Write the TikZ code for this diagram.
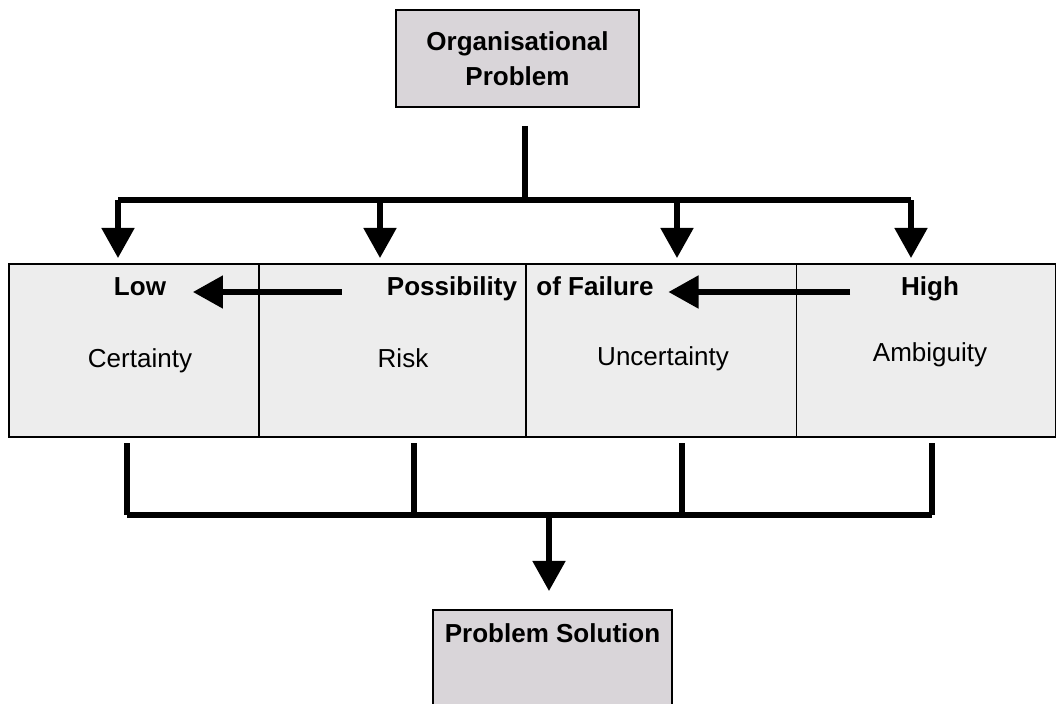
\documentclass[tikz,border=0pt]{standalone}
\usepackage{fontspec}
\setmainfont{Liberation Sans}
\usetikzlibrary{arrows.meta,positioning}

\definecolor{boxgray}{RGB}{217,213,217}
\definecolor{cellgray}{RGB}{237,237,237}

\begin{document}
\begin{tikzpicture}[
                x = 0.025cm, y = -0.025cm,
every node/.style = {font=\fontsize{18.5}{24.5}\selectfont,
                     text height=0.75em, text depth=0.25em},
      frame/.style = {draw, line width=1.3pt, fill=boxgray,
                     font=\fontsize{18.5}{24.5}\selectfont\bfseries},
       cell/.style = {draw, line width=1pt, fill=cellgray, outer sep=0pt,
                     minimum height=4.325cm, inner sep=0pt},
        lbl/.style = {font=\fontsize{18.5}{24.5}\selectfont\bfseries},
       link/.style = {line width=3.6pt},
        arr/.style = {link, -{Triangle[width=0.8cm,length=0.75cm]}}
                        ]
\useasboundingbox (0,0) rectangle (1057,703);
\clip (0,0) rectangle (1057,703);
%
\node (Problem) [frame, minimum width=6.075cm, minimum height=2.425cm,
                 align=center, text height=, text depth=]
      at (517.5,58.5) {Organisational\\Problem};
%
% the four cells of the strip
\node (Cert) [cell, minimum width=6.25cm, anchor=north west] at (9,264) {};
\node (Risk) [cell, minimum width=6.675cm, right=0pt of Cert] {};
\node (Unc)  [cell, minimum width=6.75cm,  right=0pt of Risk] {};
\node (Amb)  [cell, minimum width=6.475cm, right=0pt of Unc] {};
%
\node (Low)  [lbl] at (140,292) {Low};
\node (Poss) [lbl] at (452,292) {Possibility};
\node (Fail) [lbl] at (595,292) {of Failure};
\node (High) [lbl] at (930,292) {High};
\node (Certainty)   at (140,364) {Certainty};
\node (Risky)       at (403,364) {Risk};
\node (Uncertainty) at (663,362) {Uncertainty};
\node (Ambiguity)   at (930,358) {Ambiguity};
%
\draw[arr, shorten <=1cm, shorten >=0.55cm] (Poss.west) -- (Low.east);
\draw[arr, shorten <=1.15cm, shorten >=0.25cm] (High.west) -- (Fail.east);
%
\node (Solution) [frame, minimum width=5.975cm, anchor=north,
                  inner ysep=0.56cm, text depth=1.3cm]
      at (552.5,609) {Problem Solution};
%
% fork from the problem down to the strip
\coordinate (Fork) at (525,200);
\draw[link, shorten <=0.45cm] (Fork |- Problem.south) -- (Fork);
\draw[link] (118,200) -- (911,200);
\foreach \x/\c in {118/Cert, 380/Risk, 677/Unc, 911/Amb}
   \draw[arr, shorten >=0.15cm] (\x,200) -- (\x,200 |- \c.north);
%
% and back together into the solution
\coordinate (Join) at (549,515);
\foreach \x/\c in {127/Cert, 414/Risk, 682/Unc, 932/Amb}
   \draw[link, shorten <=0.15cm] (\x,515 |- \c.south) -- (\x,515);
\draw[link] (127,515) -- (932,515);
\draw[arr, shorten >=0.45cm] (Join) -- (Join |- Solution.north);
\end{tikzpicture}
\end{document}
